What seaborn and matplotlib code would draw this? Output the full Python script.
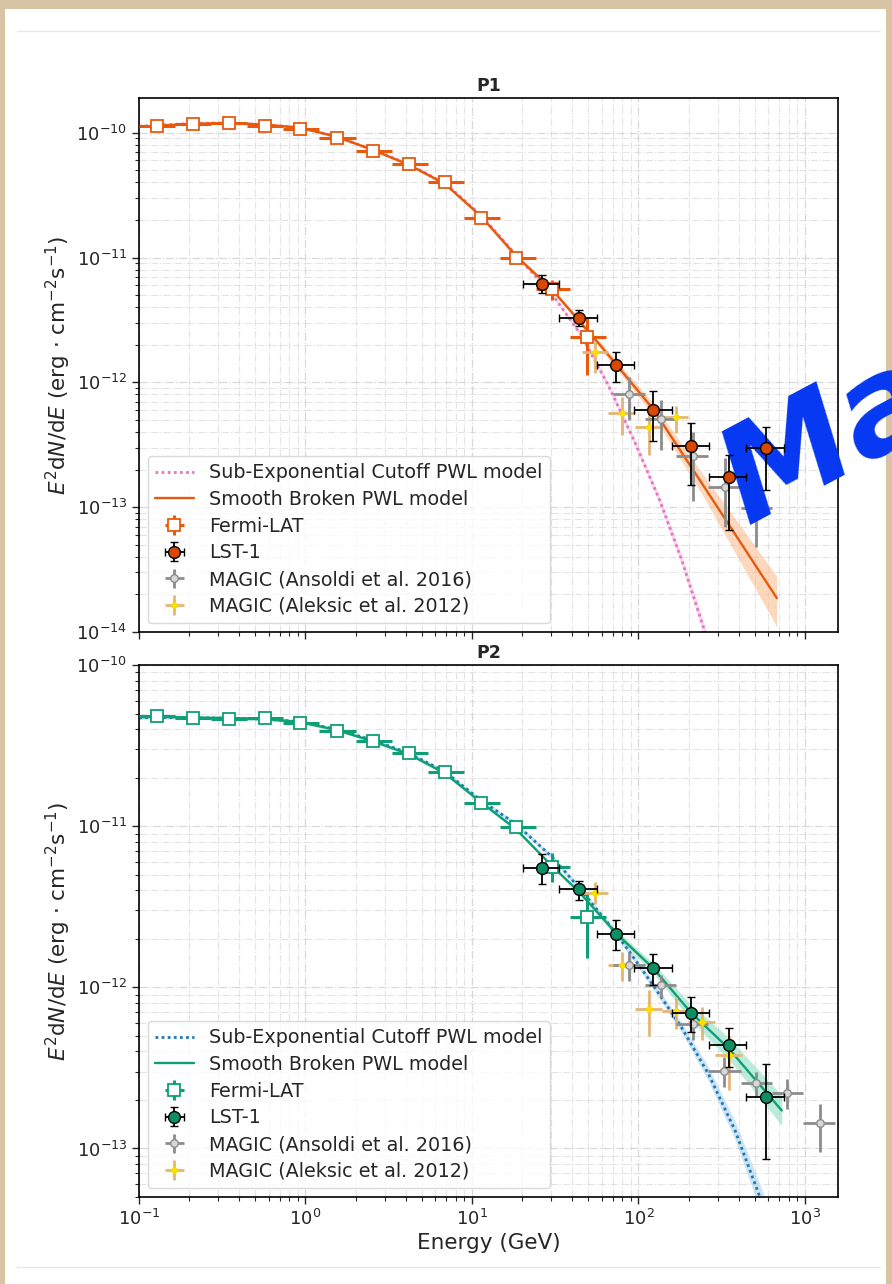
import matplotlib
matplotlib.use("Agg")
import matplotlib.pyplot as plt
from matplotlib.patches import Rectangle
from matplotlib.lines import Line2D
import numpy as np
import pandas as pd
import seaborn as sns

sns.set_style("ticks")
plt.rcParams["font.family"] = ["DejaVu Sans"]
plt.rcParams["mathtext.fontset"] = "dejavusans"

# ---------------- shared binning ----------------
fermi_E = [0.128, 0.211, 0.348, 0.574, 0.93, 1.54, 2.53, 4.17, 6.87, 11.3, 18.4, 30.3, 49.0]
fermi_edges = [0.1, 0.164, 0.271, 0.446, 0.735, 1.21, 2.0, 3.29, 5.42, 8.93, 14.7, 24.2, 39.0, 64.0]
lst_E = [26.4, 44.2, 73.6, 123, 206, 348, 582]
lst_edges = [20.3, 33.5, 56.0, 94.5, 160, 266, 443, 745]
ansoldi_edges = [70.5, 110, 167, 263, 414, 632, 980, 1510]
aleksic_edges = [46, 66, 96, 138, 198, 287, 420]

# ---------------- P1 ----------------
p1_fermi_F = [1.14e-10, 1.18e-10, 1.20e-10, 1.14e-10, 1.08e-10, 9.1e-11, 7.2e-11, 5.65e-11, 4.0e-11, 2.09e-11, 1.0e-11, 5.65e-12, 2.29e-12]
p1_fermi_lo = [1.10e-10, 1.14e-10, 1.16e-10, 1.10e-10, 1.04e-10, 8.8e-11, 6.95e-11, 5.4e-11, 3.8e-11, 1.95e-11, 9.2e-12, 4.6e-12, 1.14e-12]
p1_fermi_hi = [1.18e-10, 1.22e-10, 1.24e-10, 1.18e-10, 1.12e-10, 9.4e-11, 7.45e-11, 5.9e-11, 4.2e-11, 2.23e-11, 1.08e-11, 6.6e-12, 3.3e-12]

p1_lst_F = [6.2e-12, 3.3e-12, 1.37e-12, 6.0e-13, 3.1e-13, 1.74e-13, 2.96e-13]
p1_lst_lo = [5.25e-12, 2.82e-12, 1.0e-12, 3.4e-13, 1.5e-13, 6.6e-14, 1.37e-13]
p1_lst_hi = [7.2e-12, 3.77e-12, 1.76e-12, 8.6e-13, 4.7e-13, 2.6e-13, 4.4e-13]

p1_ans_E = [88.3, 136, 214, 330, 507]
p1_ans_F = [8.0e-13, 5.06e-13, 2.56e-13, 1.45e-13, 9.8e-14]
p1_ans_lo = [5.0e-13, 2.86e-13, 1.12e-13, 7.0e-14, 4.8e-14]
p1_ans_hi = [1.1e-12, 7.2e-13, 4.0e-13, 2.5e-13, 1.57e-13]

p1_ale_E = [55, 80, 116, 167]
p1_ale_F = [1.74e-12, 5.65e-13, 4.37e-13, 5.25e-13]
p1_ale_lo = [1.2e-12, 3.8e-13, 2.6e-13, 3.9e-13]
p1_ale_hi = [2.1e-12, 7.6e-13, 6.3e-13, 6.5e-13]

p1_sbpl_E = [0.1, 0.128, 0.211, 0.348, 0.574, 0.93, 1.54, 2.53, 4.17, 6.87, 11.3, 18.4, 29.9, 59.8, 123, 240, 678]
p1_sbpl_F = [1.12e-10, 1.14e-10, 1.18e-10, 1.20e-10, 1.16e-10, 1.10e-10, 9.3e-11, 7.3e-11, 5.55e-11, 3.9e-11, 2.15e-11, 1.03e-11, 5.65e-12, 1.94e-12, 6.08e-13, 1.56e-13, 1.87e-14]
p1_sbpl_lo = [1.10e-10, 1.12e-10, 1.16e-10, 1.18e-10, 1.14e-10, 1.08e-10, 9.1e-11, 7.15e-11, 5.4e-11, 3.8e-11, 2.1e-11, 1.0e-11, 5.45e-12, 1.82e-12, 5.4e-13, 1.28e-13, 1.1e-14]
p1_sbpl_hi = [1.14e-10, 1.16e-10, 1.20e-10, 1.22e-10, 1.18e-10, 1.12e-10, 9.5e-11, 7.45e-11, 5.7e-11, 4.0e-11, 2.2e-11, 1.06e-11, 5.85e-12, 2.06e-12, 6.8e-13, 1.9e-13, 2.8e-14]

p1_secpl_E = [0.1, 0.128, 0.211, 0.348, 0.574, 0.93, 1.54, 2.53, 4.17, 6.87, 11.3, 18.4, 30.7, 45.4, 65.9, 94.6, 134, 182, 246, 316]
p1_secpl_F = [1.13e-10, 1.15e-10, 1.19e-10, 1.20e-10, 1.16e-10, 1.10e-10, 9.3e-11, 7.35e-11, 5.6e-11, 3.95e-11, 2.2e-11, 1.05e-11, 4.97e-12, 2.38e-12, 9.46e-13, 3.37e-13, 1.14e-13, 3.77e-14, 1.08e-14, 3.4e-15]
p1_secpl_lo = [1.11e-10, 1.13e-10, 1.17e-10, 1.18e-10, 1.14e-10, 1.08e-10, 9.1e-11, 7.2e-11, 5.5e-11, 3.87e-11, 2.15e-11, 1.02e-11, 4.8e-12, 2.27e-12, 8.9e-13, 3.14e-13, 1.05e-13, 3.4e-14, 9.6e-15, 2.9e-15]
p1_secpl_hi = [1.15e-10, 1.17e-10, 1.21e-10, 1.22e-10, 1.18e-10, 1.12e-10, 9.5e-11, 7.5e-11, 5.7e-11, 4.03e-11, 2.25e-11, 1.08e-11, 5.15e-12, 2.5e-12, 1.0e-12, 3.61e-13, 1.23e-13, 4.15e-14, 1.22e-14, 4.0e-15]

# ---------------- P2 ----------------
p2_fermi_F = [4.82e-11, 4.71e-11, 4.62e-11, 4.71e-11, 4.38e-11, 3.91e-11, 3.37e-11, 2.83e-11, 2.16e-11, 1.40e-11, 9.9e-12, 5.58e-12, 2.73e-12]
p2_fermi_lo = [4.68e-11, 4.58e-11, 4.5e-11, 4.58e-11, 4.26e-11, 3.8e-11, 3.27e-11, 2.74e-11, 2.08e-11, 1.33e-11, 9.2e-12, 4.5e-12, 1.51e-12]
p2_fermi_hi = [4.96e-11, 4.84e-11, 4.74e-11, 4.84e-11, 4.5e-11, 4.02e-11, 3.47e-11, 2.92e-11, 2.24e-11, 1.47e-11, 1.06e-11, 6.8e-12, 3.91e-12]

p2_lst_F = [5.5e-12, 4.08e-12, 2.15e-12, 1.32e-12, 6.9e-13, 4.36e-13, 2.1e-13]
p2_lst_lo = [4.4e-12, 3.48e-12, 1.7e-12, 1.04e-12, 5.3e-13, 3.22e-13, 8.6e-14]
p2_lst_hi = [6.7e-12, 4.6e-12, 2.63e-12, 1.62e-12, 8.7e-13, 5.6e-13, 3.35e-13]

p2_ans_E = [87.9, 136, 214, 328, 507, 785, 1230]
p2_ans_F = [1.38e-12, 1.04e-12, 5.94e-13, 3.02e-13, 2.54e-13, 2.21e-13, 1.44e-13]
p2_ans_lo = [1.1e-12, 8.6e-13, 4.7e-13, 2.4e-13, 2.1e-13, 1.75e-13, 9.5e-14]
p2_ans_hi = [1.66e-12, 1.2e-12, 7.2e-13, 3.7e-13, 2.97e-13, 2.7e-13, 1.9e-13]

p2_ale_E = [55, 80, 116, 168, 242, 348]
p2_ale_F = [3.87e-12, 1.38e-12, 7.35e-13, 7.1e-13, 6.1e-13, 3.79e-13]
p2_ale_lo = [3.3e-12, 1.1e-12, 5.0e-13, 5.5e-13, 4.7e-13, 2.3e-13]
p2_ale_hi = [4.5e-12, 1.66e-12, 9.6e-13, 8.7e-13, 7.5e-13, 5.0e-13]

p2_sbpl_E = [0.1, 0.128, 0.211, 0.348, 0.574, 0.93, 1.54, 2.53, 4.17, 6.87, 11.3, 18.4, 30.3, 44.2, 73.6, 123, 206, 348, 726]
p2_sbpl_F = [4.75e-11, 4.78e-11, 4.72e-11, 4.69e-11, 4.62e-11, 4.43e-11, 3.95e-11, 3.37e-11, 2.80e-11, 2.13e-11, 1.41e-11, 9.57e-12, 5.65e-12, 3.89e-12, 2.16e-12, 1.31e-12, 7.0e-13, 4.18e-13, 1.72e-13]
p2_sbpl_lo = [4.65e-11, 4.68e-11, 4.62e-11, 4.59e-11, 4.52e-11, 4.33e-11, 3.87e-11, 3.3e-11, 2.74e-11, 2.08e-11, 1.38e-11, 9.36e-12, 5.53e-12, 3.8e-12, 2.07e-12, 1.22e-12, 6.25e-13, 3.57e-13, 1.39e-13]
p2_sbpl_hi = [4.85e-11, 4.88e-11, 4.82e-11, 4.79e-11, 4.72e-11, 4.53e-11, 4.04e-11, 3.44e-11, 2.86e-11, 2.18e-11, 1.44e-11, 9.78e-12, 5.77e-12, 3.98e-12, 2.26e-12, 1.41e-12, 7.85e-13, 4.89e-13, 2.13e-13]

p2_secpl_E = [0.1, 0.128, 0.211, 0.348, 0.574, 0.93, 1.54, 2.53, 4.17, 6.87, 11.3, 18.4, 30.5, 45.3, 65.8, 86.9, 125, 181, 263, 381, 537, 629]
p2_secpl_F = [4.7e-11, 4.73e-11, 4.7e-11, 4.68e-11, 4.62e-11, 4.45e-11, 3.98e-11, 3.42e-11, 2.84e-11, 2.18e-11, 1.45e-11, 1.03e-11, 6.4e-12, 4.0e-12, 2.49e-12, 1.7e-12, 1.0e-12, 5.66e-13, 2.91e-13, 1.29e-13, 4.99e-14, 3.1e-14]
p2_secpl_lo = [4.6e-11, 4.63e-11, 4.6e-11, 4.58e-11, 4.52e-11, 4.36e-11, 3.9e-11, 3.35e-11, 2.78e-11, 2.13e-11, 1.41e-11, 1.0e-11, 6.2e-12, 3.83e-12, 2.38e-12, 1.63e-12, 9.4e-13, 5.27e-13, 2.63e-13, 1.13e-13, 4.16e-14, 2.54e-14]
p2_secpl_hi = [4.8e-11, 4.83e-11, 4.8e-11, 4.78e-11, 4.72e-11, 4.54e-11, 4.06e-11, 3.49e-11, 2.9e-11, 2.23e-11, 1.49e-11, 1.06e-11, 6.6e-12, 4.17e-12, 2.6e-12, 1.77e-12, 1.06e-12, 6.08e-13, 3.22e-13, 1.47e-13, 5.99e-14, 3.78e-14]

labels = ["Sub-Exponential Cutoff PWL model", "Smooth Broken PWL model", "Fermi-LAT",
          "LST-1", "MAGIC (Ansoldi et al. 2016)", "MAGIC (Aleksic et al. 2012)"]

W, H = 892, 1284
fig = plt.figure(figsize=(W / 100, H / 100), dpi=100)
fig.patch.set_facecolor("#d6c4a4")
fig.add_artist(Rectangle((5 / W, 0), 881 / W, 1 - 9 / H, transform=fig.transFigure,
                         facecolor="white", edgecolor="none", zorder=-10))
for yy in (31, 1267):
    fig.add_artist(Line2D([17 / W, 880 / W], [1 - yy / H, 1 - yy / H], transform=fig.transFigure,
                          color="#e8e8e8", lw=1.0, zorder=-5))

ax1 = fig.add_axes([139 / W, 1 - 632 / H, 699 / W, 534 / H])
ax2 = fig.add_axes([139 / W, 1 - 1197 / H, 699 / W, 532 / H], sharex=ax1)


def xerrs(E, edges):
    lo = [e - a for e, a in zip(E, edges[:-1])]
    hi = [b - e for e, b in zip(E, edges[1:])]
    return [lo, hi]


def yerrs(F, lo, hi):
    return [[f - l for f, l in zip(F, lo)], [h - f for f, h in zip(F, hi)]]


def model(ax, E, F, lo, hi, color, band, ls, lw):
    ax.fill_between(E, lo, hi, color=band, alpha=0.55, lw=0, zorder=1)
    df = pd.DataFrame({"E": E, "F": F})
    sns.lineplot(data=df, x="E", y="F", ax=ax, color=color, linestyle=ls, lw=lw,
                 estimator=None, sort=False, legend=False, zorder=2)
    return ax.get_lines()[-1]


def panel(ax, title, main, lstface, fermi_F, fermi_lo, fermi_hi, lst_F, lst_lo, lst_hi,
          ans_E, ans_F, ans_lo, ans_hi, ale_E, ale_F, ale_lo, ale_hi,
          sbpl, sbpl_band, secpl, sec_color, sec_band):
    h_sec = model(ax, *secpl, sec_color, sec_band, (0, (1, 1.2)), 2.0)
    h_sb = model(ax, *sbpl, main, sbpl_band, "-", 1.7)
    h_fermi = ax.errorbar(fermi_E, fermi_F, xerr=xerrs(fermi_E, fermi_edges),
                          yerr=yerrs(fermi_F, fermi_lo, fermi_hi), fmt="s", ms=8,
                          mfc="white", mec=main, mew=1.3, ecolor=main, elinewidth=2.2,
                          capsize=0, zorder=3)
    h_ale = ax.errorbar(ale_E, ale_F, xerr=xerrs(ale_E, aleksic_edges[:len(ale_E) + 1]),
                        yerr=yerrs(ale_F, ale_lo, ale_hi), fmt="D", ms=4.5,
                        mfc="#ffe100", mec="#f2d000", mew=0.5, ecolor="#e3b675",
                        elinewidth=2.0, capsize=0, zorder=3)
    h_ans = ax.errorbar(ans_E, ans_F, xerr=xerrs(ans_E, ansoldi_edges[:len(ans_E) + 1]),
                        yerr=yerrs(ans_F, ans_lo, ans_hi), fmt="o", ms=5.5,
                        mfc="#d6d6d6", mec="#8c8c8c", mew=1.0, ecolor="#8c8c8c",
                        elinewidth=2.0, capsize=0, zorder=3)
    h_lst = ax.errorbar(lst_E, lst_F, xerr=xerrs(lst_E, lst_edges),
                        yerr=yerrs(lst_F, lst_lo, lst_hi), fmt="o", ms=8.5,
                        mfc=lstface, mec="black", mew=1.0, ecolor="black",
                        elinewidth=1.3, capsize=3, capthick=1.3, zorder=5)
    ax.set_xscale("log")
    ax.set_yscale("log")
    ax.set_title(title, fontsize=12.5, fontweight="bold", pad=5)
    ax.set_ylabel(r"$E^2\mathrm{d}N/\mathrm{d}E$ (erg $\cdot$ cm$^{-2}$s$^{-1}$)", fontsize=15.5)
    ax.grid(True, which="major", color="#cfcfcf", lw=0.9, ls="-.", alpha=0.8)
    ax.grid(True, which="minor", color="#d9d9d9", lw=0.8, ls="-.", alpha=0.7)
    ax.set_axisbelow(True)
    ax.tick_params(labelsize=13, which="major", length=5, width=1)
    ax.tick_params(which="minor", length=3, width=0.8)
    for s in ax.spines.values():
        s.set_color("black")
        s.set_linewidth(1.2)
        s.set_visible(True)
    ax.legend([h_sec, h_sb, h_fermi, h_lst, h_ans, h_ale], labels, loc="lower left",
              fontsize=13.8, framealpha=0.8, edgecolor="#d0d0d0", borderaxespad=0.45,
              handlelength=2.0, labelspacing=0.4)


panel(ax1, "P1", "#e8590c", "#d94801",
      p1_fermi_F, p1_fermi_lo, p1_fermi_hi, p1_lst_F, p1_lst_lo, p1_lst_hi,
      p1_ans_E, p1_ans_F, p1_ans_lo, p1_ans_hi, p1_ale_E, p1_ale_F, p1_ale_lo, p1_ale_hi,
      (p1_sbpl_E, p1_sbpl_F, p1_sbpl_lo, p1_sbpl_hi), "#fbb98a",
      (p1_secpl_E, p1_secpl_F, p1_secpl_lo, p1_secpl_hi), "#e377c2", "#f6bfe0")

panel(ax2, "P2", "#0e9f74", "#0d8f63",
      p2_fermi_F, p2_fermi_lo, p2_fermi_hi, p2_lst_F, p2_lst_lo, p2_lst_hi,
      p2_ans_E, p2_ans_F, p2_ans_lo, p2_ans_hi, p2_ale_E, p2_ale_F, p2_ale_lo, p2_ale_hi,
      (p2_sbpl_E, p2_sbpl_F, p2_sbpl_lo, p2_sbpl_hi), "#86dcc0",
      (p2_secpl_E, p2_secpl_F, p2_secpl_lo, p2_secpl_hi), "#1f77b4", "#a3cfeb")

ax1.set_xlim(0.1, 1580)
ax1.set_ylim(1e-14, 1.9e-10)
ax2.set_ylim(5e-14, 1e-10)
ax1.tick_params(labelbottom=False)
ax1.set_xlabel("")
ax2.set_xlabel("Energy (GeV)", fontsize=15.5, labelpad=3)
ax1.yaxis.set_label_coords(-0.095, 0.5)
ax2.yaxis.set_label_coords(-0.095, 0.5)

# watermark lettering across the right edge of the upper panel
ax1.text(700 / W, 1 - 522 / H, "Ma", transform=fig.transFigure, fontsize=95,
         fontweight="bold", style="italic", color="#0637f2", rotation=28,
         ha="left", va="baseline", clip_on=False, zorder=4)

fig.savefig("out.png", dpi=100, facecolor=fig.get_facecolor())
